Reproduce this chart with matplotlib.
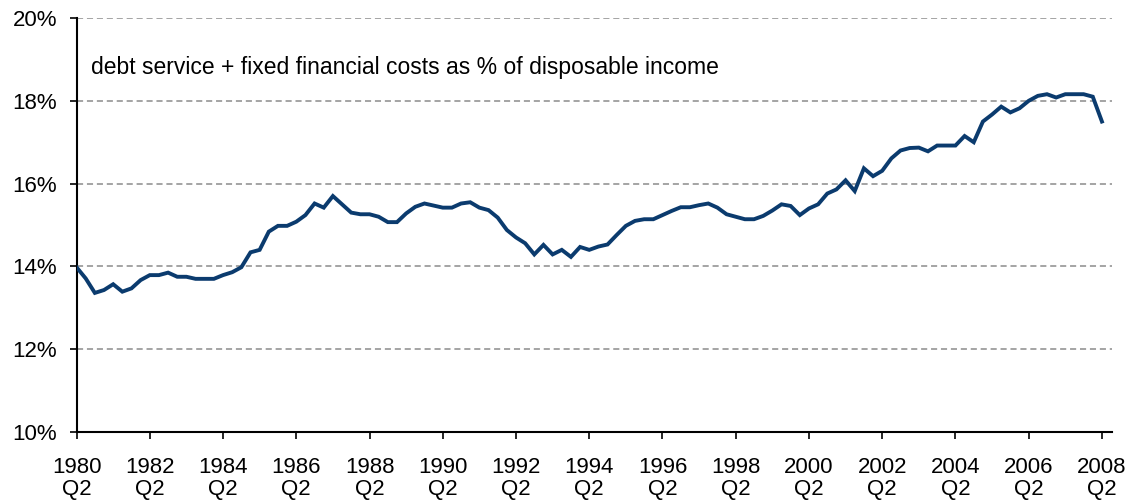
import numpy as np
import matplotlib.pyplot as plt

plt.rcParams['font.family'] = ['Liberation Sans', 'DejaVu Sans']

# quarterly data, 1980 Q2 .. 2008 Q2 (% of disposable income)
ratio = [
    13.98, 13.71, 13.36, 13.43, 13.57, 13.39, 13.47, 13.67,   # 1980Q2-1982Q1
    13.79, 13.79, 13.85, 13.75, 13.75, 13.70, 13.70, 13.70,   # 1982Q2-1984Q1
    13.79, 13.86, 13.98, 14.34, 14.40, 14.84, 14.98, 14.98,   # 1984Q2-1986Q1
    15.08, 15.24, 15.52, 15.42, 15.70, 15.50, 15.30, 15.26,   # 1986Q2-1988Q1
    15.26, 15.20, 15.07, 15.07, 15.28, 15.44, 15.52, 15.47,   # 1988Q2-1990Q1
    15.42, 15.42, 15.52, 15.55, 15.42, 15.36, 15.18, 14.88,   # 1990Q2-1992Q1
    14.70, 14.56, 14.29, 14.52, 14.29, 14.40, 14.23, 14.47,   # 1992Q2-1994Q1
    14.40, 14.48, 14.53, 14.76, 14.98, 15.10, 15.14, 15.14,   # 1994Q2-1996Q1
    15.24, 15.34, 15.43, 15.43, 15.48, 15.52, 15.42, 15.26,   # 1996Q2-1998Q1
    15.20, 15.14, 15.14, 15.22, 15.35, 15.50, 15.46, 15.24,   # 1998Q2-2000Q1
    15.40, 15.50, 15.76, 15.86, 16.08, 15.82, 16.37, 16.18,   # 2000Q2-2002Q1
    16.31, 16.61, 16.80, 16.86, 16.87, 16.78, 16.92, 16.92,   # 2002Q2-2004Q1
    16.92, 17.15, 17.00, 17.50, 17.67, 17.86, 17.72, 17.82,   # 2004Q2-2006Q1
    18.00, 18.12, 18.16, 18.08, 18.16, 18.16, 18.16, 18.10,   # 2006Q2-2008Q1
    17.50,                                                    # 2008Q2
]
tick_years = list(range(1980, 2009, 2))
tick_labels = [f'{y}\nQ2' for y in tick_years]
y_ticks = [10, 12, 14, 16, 18, 20]

q = np.arange(len(ratio))

fig = plt.figure(figsize=(11.34, 5.01), dpi=100)
ax = fig.add_axes([0.0675, 0.1377, 0.9131, 0.8263])

ax.plot(q, ratio, color='#0b3b6e', lw=2.8, solid_joinstyle='miter', zorder=3)

ax.set_xlim(0, 113.1)
ax.set_ylim(10, 20)
ax.set_xticks([(y - 1980) * 4 for y in tick_years])
ax.set_xticklabels(tick_labels, fontsize=16, linespacing=1.05)
ax.set_yticks(y_ticks)
ax.set_yticklabels([f'{v}%' for v in y_ticks], fontsize=16)
ax.tick_params(axis='x', length=5, width=1.2, pad=13)
ax.tick_params(axis='y', length=5, width=1.2, pad=9)

for v in y_ticks[1:]:
    ax.axhline(v, color='#8c8c8c', lw=1.1, ls=(0, (4, 2.5)), zorder=1)

for s in ['top', 'right']:
    ax.spines[s].set_visible(False)
for s in ['left', 'bottom']:
    ax.spines[s].set_linewidth(1.5)

ax.text(1.6, 18.8, 'debt service + fixed financial costs as % of disposable income',
        fontsize=16.5, va='center', ha='left')

fig.savefig('out.png', dpi=100)
